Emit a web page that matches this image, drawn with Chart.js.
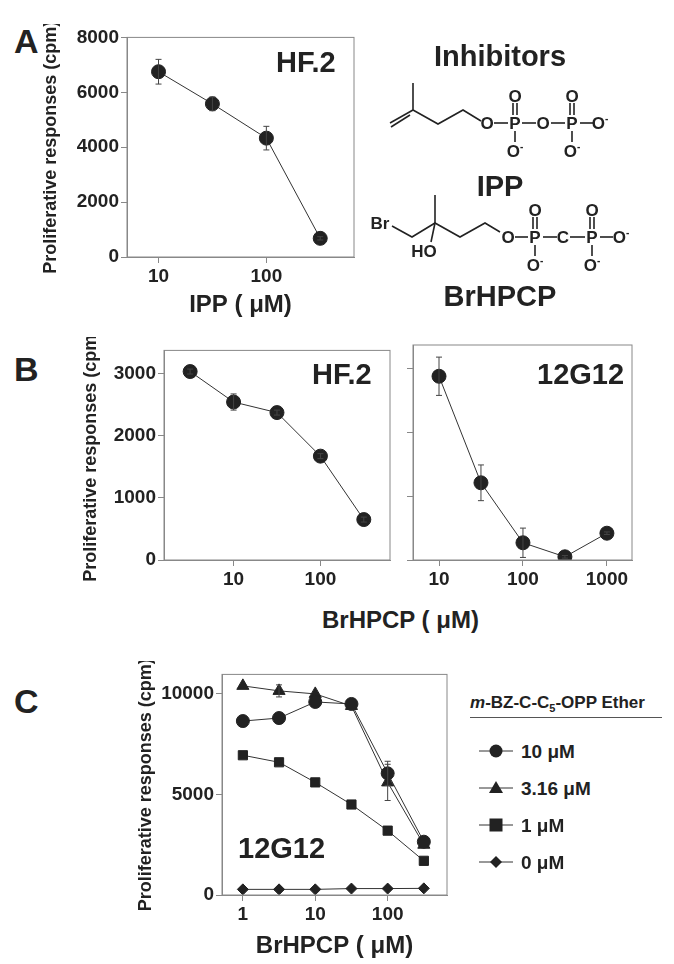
<!DOCTYPE html>
<html>
<head>
<meta charset="utf-8">
<script src="https://cdn.jsdelivr.net/npm/chart.js@4"></script>
<style>
  body { margin:0; background:#fff; font-family:"Liberation Sans", Arial, sans-serif; font-weight:bold; color:#222; }
  #page { position:relative; width:674px; height:964px; overflow:hidden; }
  canvas, .t, svg { position:absolute; }
  .t { white-space:nowrap; line-height:1; }
  .panel { font-size:34px; }
  .cell { font-size:29px; }
</style>
</head>
<body>
<div id="page">
  <canvas id="chartA" width="322" height="300" style="left:40px;top:24px"></canvas>
  <canvas id="chartB1" width="318" height="256" style="left:80px;top:337px"></canvas>
  <canvas id="chartB2" width="237" height="256" style="left:403px;top:337px"></canvas>
  <canvas id="chartC" width="320" height="304" style="left:135px;top:661px"></canvas>

  <div class="t panel" style="left:14px;top:24px">A</div>
  <div class="t panel" style="left:14px;top:352px">B</div>
  <div class="t panel" style="left:14px;top:684px">C</div>

  <div class="t cell" style="left:276px;top:48px">HF.2</div>
  <div class="t cell" style="left:312px;top:360px">HF.2</div>
  <div class="t cell" style="left:537px;top:360px">12G12</div>
  <div class="t cell" style="left:238px;top:834px">12G12</div>

  <div class="t" style="left:322px;top:608px;font-size:24px">BrHPCP ( &mu;M)</div>

  <svg width="674" height="320" style="left:0;top:0" font-family="Liberation Sans, Arial, sans-serif" font-weight="bold">
    <g stroke="#222" stroke-width="1.6" fill="none">
      <polyline points="413,83 413,110 438,124 463,110 481,121"/>
      <line x1="413" y1="110" x2="390" y2="123"/>
      <line x1="410" y1="115" x2="391" y2="127"/>
      <line x1="494" y1="123" x2="508" y2="123"/>
      <line x1="522" y1="123" x2="536" y2="123"/>
      <line x1="551" y1="123" x2="565" y2="123"/>
      <line x1="580" y1="123" x2="593" y2="123"/>
      <line x1="513" y1="103" x2="513" y2="115"/><line x1="517" y1="103" x2="517" y2="115"/>
      <line x1="570" y1="103" x2="570" y2="115"/><line x1="574" y1="103" x2="574" y2="115"/>
      <line x1="515" y1="131" x2="515" y2="142"/><line x1="572" y1="131" x2="572" y2="142"/>

      <polyline points="392,226 412,237 435,223 460,237 485,223 500,232"/>
      <line x1="435" y1="223" x2="435" y2="195"/>
      <line x1="435" y1="223" x2="431" y2="242"/>
      <line x1="515" y1="237" x2="528" y2="237"/>
      <line x1="543" y1="237" x2="557" y2="237"/>
      <line x1="570" y1="237" x2="585" y2="237"/>
      <line x1="600" y1="237" x2="613" y2="237"/>
      <line x1="533" y1="217" x2="533" y2="229"/><line x1="537" y1="217" x2="537" y2="229"/>
      <line x1="590" y1="217" x2="590" y2="229"/><line x1="594" y1="217" x2="594" y2="229"/>
      <line x1="535" y1="245" x2="535" y2="256"/><line x1="592" y1="245" x2="592" y2="256"/>
    </g>
    <g font-size="17" text-anchor="middle" fill="#222">
      <text x="500" y="66" font-size="29">Inhibitors</text>
      <text x="487" y="129">O</text><text x="515" y="129">P</text><text x="543" y="129">O</text>
      <text x="572" y="129">P</text><text x="600" y="129">O<tspan font-size="10" dy="-7">-</tspan></text>
      <text x="515" y="102">O</text><text x="572" y="102">O</text>
      <text x="515" y="157">O<tspan font-size="10" dy="-7">-</tspan></text>
      <text x="572" y="157">O<tspan font-size="10" dy="-7">-</tspan></text>
      <text x="500" y="196" font-size="29">IPP</text>

      <text x="380" y="229">Br</text><text x="424" y="257">HO</text>
      <text x="508" y="243">O</text><text x="535" y="243">P</text><text x="563" y="243">C</text>
      <text x="592" y="243">P</text><text x="621" y="243">O<tspan font-size="10" dy="-7">-</tspan></text>
      <text x="535" y="216">O</text><text x="592" y="216">O</text>
      <text x="535" y="271">O<tspan font-size="10" dy="-7">-</tspan></text>
      <text x="592" y="271">O<tspan font-size="10" dy="-7">-</tspan></text>
      <text x="500" y="306" font-size="29">BrHPCP</text>
    </g>
  </svg>

  <div class="t" style="left:470px;top:694px;font-size:17px"><i>m</i>-BZ-C-C<sub style="font-size:11px">5</sub>-OPP Ether</div>
  <div style="position:absolute;left:470px;top:717px;width:192px;border-top:1px solid #555"></div>
  <div id="legendC"></div>
</div>

<script>
// --- DATA ---
const ippDose = [10, 31.6, 100, 316];
const ippHF2 = [6750, 5580, 4330, 680];
const ippHF2Err = [450, 250, 430, 60];

const brDoseHF2 = [3.16, 10, 31.6, 100, 316];
const brHF2 = [3030, 2540, 2370, 1670, 650];
const brHF2Err = [40, 130, 40, 40, 40];

const brDose12 = [10, 31.6, 100, 316, 1000];
const br12G12 = [2880, 1210, 270, 50, 420];
const br12G12Err = [300, 280, 230, 20, 20];

const cDose = [1, 3.16, 10, 31.6, 100, 316];
const c10uM = [8650, 8800, 9600, 9500, 6050, 2650];
const c10uMErr = [0, 0, 0, 0, 600, 0];
const c316uM = [10400, 10150, 10000, 9400, 5600, 2500];
const c316uMErr = [0, 300, 0, 0, 900, 0];
const c1uM = [6950, 6600, 5600, 4500, 3200, 1700];
const c0uM = [280, 280, 280, 320, 320, 330];
const cLegend = ['10 \u03bcM', '3.16 \u03bcM', '1 \u03bcM', '0 \u03bcM'];

const INK = '#222';
const AXIS = '#888';
const FONT = 'Liberation Sans, Arial, sans-serif';

// frame around plot area + error bars
const framePlugin = {
    id: 'frame',
    afterDatasetsDraw(chart) {
        const { ctx, chartArea: a, scales } = chart;
        ctx.save();
        ctx.strokeStyle = AXIS;
        ctx.lineWidth = 1;
        ctx.strokeRect(a.left, a.top, a.right - a.left, a.bottom - a.top);
        ctx.strokeStyle = '#444';
        chart.data.datasets.forEach(ds => {
            if (!ds.errors) return;
            ds.data.forEach((p, i) => {
                const e = ds.errors[i];
                if (!e) return;
                const x = scales.x.getPixelForValue(p.x);
                const y1 = scales.y.getPixelForValue(p.y - e);
                const y2 = scales.y.getPixelForValue(p.y + e);
                ctx.beginPath();
                ctx.moveTo(x, y1); ctx.lineTo(x, y2);
                ctx.moveTo(x - 3, y1); ctx.lineTo(x + 3, y1);
                ctx.moveTo(x - 3, y2); ctx.lineTo(x + 3, y2);
                ctx.stroke();
            });
        });
        ctx.restore();
    }
};

function series(xs, ys, errs, style, r) {
    return {
        data: xs.map((x, i) => ({ x: x, y: ys[i] })),
        errors: errs,
        borderColor: '#333', borderWidth: 1,
        pointBackgroundColor: INK, pointBorderColor: INK,
        pointStyle: style || 'circle', pointRadius: r || 7, pointHoverRadius: r || 7,
        tension: 0
    };
}

function makeChart(id, o) {
    new Chart(document.getElementById(id), {
        type: 'line',
        data: { datasets: o.datasets },
        options: {
            responsive: false, animation: false, devicePixelRatio: 1,
            layout: { padding: { top: 8, right: 2 } },
            plugins: { legend: { display: false }, tooltip: { enabled: false } },
            scales: {
                x: {
                    type: 'logarithmic', min: o.xMin, max: o.xMax,
                    afterBuildTicks: s => { s.ticks = o.xTicks.map(v => ({ value: v })); },
                    afterFit: s => { s.height = o.xH; },
                    grid: { drawOnChartArea: false, color: AXIS, tickLength: 6 },
                    border: { color: AXIS },
                    ticks: { color: INK, font: { family: FONT, size: 19, weight: 'bold' }, padding: 2,
                             callback: v => String(v), maxRotation: 0, autoSkip: false },
                    title: { display: !!o.xTitle, text: o.xTitle, color: INK, padding: { top: 6 },
                             font: { family: FONT, size: 24, weight: 'bold' } }
                },
                y: {
                    min: o.yMin, max: o.yMax,
                    afterBuildTicks: s => { s.ticks = o.yTicks.map(v => ({ value: v })); },
                    afterFit: s => { s.width = o.yW; },
                    grid: { drawOnChartArea: false, color: AXIS, tickLength: 6 },
                    border: { color: AXIS },
                    ticks: { display: o.yLabels !== false, color: INK, padding: 2,
                             callback: v => String(v),
                             font: { family: FONT, size: 19, weight: 'bold' } },
                    title: { display: !!o.yTitle, text: o.yTitle, color: INK, padding: 0,
                             font: { family: FONT, size: 18, weight: 'bold' } }
                }
            }
        },
        plugins: [framePlugin]
    });
}

const yTitle = 'Proliferative responses (cpm)';

makeChart('chartA', {
    datasets: [series(ippDose, ippHF2, ippHF2Err)],
    xMin: 5.1, xMax: 650, xTicks: [10, 100], xTitle: 'IPP ( \u03bcM)', xH: 67,
    yMin: 0, yMax: 8000, yTicks: [0, 2000, 4000, 6000, 8000], yTitle: yTitle, yW: 87
});

makeChart('chartB1', {
    datasets: [series(brDoseHF2, brHF2, brHF2Err)],
    xMin: 1.58, xMax: 633, xTicks: [10, 100], xH: 33,
    yMin: 0, yMax: 3370, yTicks: [0, 1000, 2000, 3000], yTitle: yTitle, yW: 84
});

makeChart('chartB2', {
    datasets: [series(brDose12, br12G12, br12G12Err)],
    xMin: 4.9, xMax: 1990, xTicks: [10, 100, 1000], xH: 33,
    yMin: 0, yMax: 3370, yTicks: [0, 1000, 2000, 3000], yLabels: false, yW: 10
});

const cSeries = [
    series(cDose, c10uM, c10uMErr, 'circle', 6.5),
    series(cDose, c316uM, c316uMErr, 'triangle', 7),
    series(cDose, c1uM, null, 'rect', 6.5),
    series(cDose, c0uM, null, 'rectRot', 5.5)
];
makeChart('chartC', {
    datasets: cSeries,
    xMin: 0.515, xMax: 660, xTicks: [1, 10, 100], xTitle: 'BrHPCP ( \u03bcM)', xH: 70,
    yMin: 0, yMax: 10970, yTicks: [0, 5000, 10000], yTitle: yTitle, yW: 87
});

// legend for panel C, symbols taken from the series styles
const shapes = {
    circle: '<circle cx="17" cy="10" r="6.5"/>',
    triangle: '<polygon points="17,3 24,15 10,15"/>',
    rect: '<rect x="10.5" y="3.5" width="13" height="13"/>',
    rectRot: '<polygon points="17,4 23,10 17,16 11,10"/>'
};
document.getElementById('legendC').innerHTML = cSeries.map((s, i) => `
    <svg width="34" height="20" style="left:479px;top:${741 + i * 37}px">
      <line x1="0" y1="10" x2="34" y2="10" stroke="#333" stroke-width="1"/>
      <g fill="${INK}">${shapes[s.pointStyle]}</g>
    </svg>
    <div class="t" style="left:521px;top:${742 + i * 37}px;font-size:19px">${cLegend[i]}</div>
`).join('');
</script>
</body>
</html>
